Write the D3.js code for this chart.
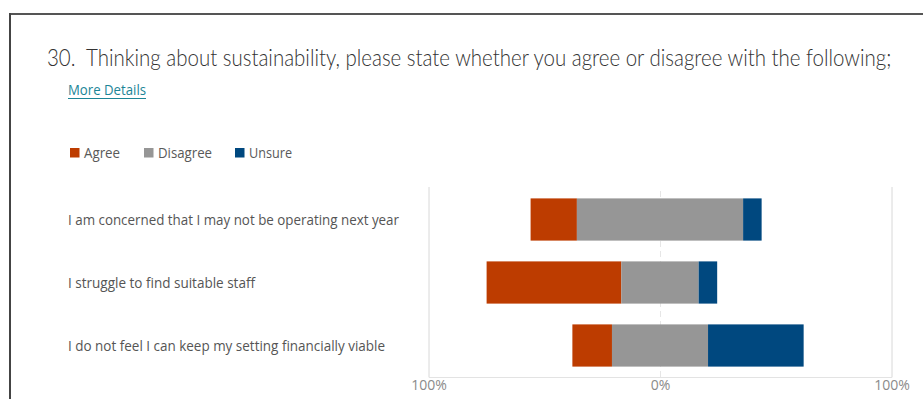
<!DOCTYPE html>
<html>
<head>
<meta charset="utf-8">
<script src="https://cdn.jsdelivr.net/npm/d3@7/dist/d3.min.js"></script>
<style>
  body { margin: 0; background: #fff; }
  text { font-family: "Open Sans", "Noto Sans", sans-serif; }
</style>
</head>
<body>
<div id="container"></div>
<script>
// data (percent of responses)
let statements = [
  "I am concerned that I may not be operating next year",
  "I struggle to find suitable staff",
  "I do not feel I can keep my setting financially viable"
];
let agree = [20, 58.2, 17.1];
let disagree = [71.8, 33.4, 41.5];
let unsure = [8, 8, 41.3];
let seriesNames = ["Agree", "Disagree", "Unsure"];
let seriesColors = ["#bd3c00", "#969696", "#00487f"];
let tickValues = [-100, 0, 100];

let w = 923;
let h = 399;
let svg = d3.select("#container")
  .append("svg")
    .attr("width", w)
    .attr("height", h)
;

// frame (top + left edge of the screenshot card)
svg.append("line").attr("x1", 9).attr("x2", w).attr("y1", 14).attr("y2", 14)
  .attr("stroke", "#555").attr("stroke-width", 2);
svg.append("line").attr("x1", 10).attr("x2", 10).attr("y1", 13).attr("y2", h)
  .attr("stroke", "#444").attr("stroke-width", 2);

// title: squeeze horizontally to the width it has in the picture
let title = svg.append("text")
  .attr("x", 0).attr("y", 0)
  .attr("font-size", 24)
  .attr("font-weight", 300)
  .attr("fill", "#333")
  .style("font-family", "Lato, 'Open Sans', sans-serif")
  .style("white-space", "pre")
  .text("30.  Thinking about sustainability, please state whether you agree or disagree with the following;");
let titleLen = title.node().getComputedTextLength();
title.attr("transform", "translate(47,66) scale(" + (845 / titleLen) + ",1)");

svg.append("text")
  .attr("x", 68).attr("y", 95)
  .attr("font-size", 14)
  .attr("fill", "#1c8597")
  .attr("textLength", 78)
  .attr("lengthAdjust", "spacingAndGlyphs")
  .text("More Details");
svg.append("line").attr("x1", 68).attr("x2", 146).attr("y1", 98.5).attr("y2", 98.5)
  .attr("stroke", "#1c8597").attr("stroke-width", 1);

// legend
let legendX = [70, 144, 235];
let legendW = [36, 54, 43];
let legend = svg.append("g").attr("class", "legend");
seriesNames.forEach(function(name, i) {
  legend.append("rect")
    .attr("x", legendX[i]).attr("y", 148)
    .attr("width", 9.5).attr("height", 9.5)
    .attr("fill", seriesColors[i]);
  legend.append("text")
    .attr("x", legendX[i] + 14).attr("y", 157.5)
    .attr("font-size", 14)
    .attr("fill", "#595959")
    .attr("textLength", legendW[i])
    .attr("lengthAdjust", "spacingAndGlyphs")
    .text(name);
});

// scales
let x = d3.scaleLinear().domain([-100, 100]).range([428.5, 891.5]);
let y = d3.scaleBand().domain(statements).range([188, 377])
  .paddingInner(0.33).paddingOuter(0.165);

// grid + axis
let axis = svg.append("g")
  .attr("transform", "translate(0,377)")
  .call(d3.axisBottom(x).tickValues(tickValues).tickSize(-190)
    .tickFormat(function(d) { return Math.abs(d) + "%"; }));
axis.select(".domain").attr("stroke", "#e3e3e3");
axis.selectAll(".tick line").attr("stroke", "#e6e6e6")
  .attr("stroke-dasharray", function(d) { return d == 0 ? "6,4" : null; });
axis.selectAll(".tick text")
  .attr("font-size", 14)
  .attr("fill", "#8a8a8a")
  .attr("dy", 0)
  .attr("y", 13);
axis.attr("font-family", null);

// category labels
let labelW = [331, 187, 317];
svg.append("g").selectAll("text").data(statements).enter()
  .append("text")
    .attr("x", 68)
    .attr("y", function(d) { return y(d) + y.bandwidth() / 2 + 5; })
    .attr("font-size", 14)
    .attr("fill", "#555")
    .attr("textLength", function(d, i) { return labelW[i]; })
    .attr("lengthAdjust", "spacingAndGlyphs")
    .text(function(d) { return d; });

// diverging bars: disagree centred on 0, agree to the left, unsure to the right
let rows = statements.map(function(s, i) {
  let half = disagree[i] / 2;
  return [
    { s: s, k: 0, x0: -half - agree[i], x1: -half },
    { s: s, k: 1, x0: -half, x1: half },
    { s: s, k: 2, x0: half, x1: half + unsure[i] }
  ];
});
svg.append("g").selectAll("g").data(rows).enter()
  .append("g")
  .selectAll("rect").data(function(d) { return d; }).enter()
  .append("rect")
    .attr("x", function(d) { return x(d.x0); })
    .attr("width", function(d) { return x(d.x1) - x(d.x0); })
    .attr("y", function(d) { return y(d.s); })
    .attr("height", y.bandwidth())
    .attr("fill", function(d) { return seriesColors[d.k]; });
</script>
</body>
</html>
